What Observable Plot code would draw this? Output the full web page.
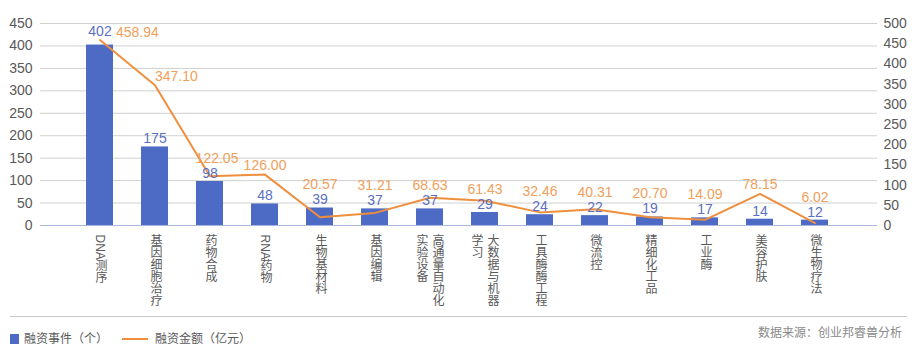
<!DOCTYPE html>
<html>
<head>
<meta charset="utf-8">
<script src="https://cdn.jsdelivr.net/npm/d3@7"></script>
<script src="https://cdn.jsdelivr.net/npm/@observablehq/plot@0.6"></script>
<style>
  html, body { margin: 0; padding: 0; background: #fff; }
  body { width: 916px; height: 361px; overflow: hidden; font-family: "Liberation Sans", "Noto Sans CJK SC", sans-serif; }
  #footer { position: relative; height: 45px; }
  #footer .rule { position: absolute; left: 10px; width: 897px; top: 0; border-top: 1px solid #c8c8c8; }
  #footer .item { position: absolute; font-size: 12px; color: #595959; line-height: 14px; white-space: nowrap; }
  #footer .sw { position: absolute; }
</style>
</head>
<body>
<div id="chart"></div>
<div id="footer"></div>
<script>
// ---- data ----
const categories = ["DNA测序","基因细胞治疗","药物合成","RNA药物","生物基材料","基因编辑","高通量自动化实验设备","大数据与机器学习","工具酶酶工程","微流控","精细化工品","工业酶","美容护肤","微生物疗法"];
const events = [402,175,98,48,39,37,37,29,24,22,19,17,14,12];
const amounts = [458.94,347.10,122.05,126.00,20.57,31.21,68.63,61.43,32.46,40.31,20.70,14.09,78.15,6.02];
const leftTicks = [0,50,100,150,200,250,300,350,400,450];
const rightTicks = [0,50,100,150,200,250,300,350,400,450,500];
const seriesNames = ["融资事件（个）","融资金额（亿元）"];
const sourceText = "数据来源：创业邦睿兽分析";

// ---- styling / layout ----
const FONT = '"Liberation Sans", "Noto Sans CJK SC", sans-serif';
const BLUE = "#4d6bc4", BLUE_LABEL = "#5b70c0";
const ORANGE = "#ef8f3e", ORANGE_LABEL = "#f0a05a";
const W = 916, H = 316, MT = 23, MB = 91, ML = 40, MR = 39;
const LMAX = d3.max(leftTicks), RMAX = d3.max(rightTicks);
const RATIO = LMAX / RMAX;                 // right axis → left axis units
const k = LMAX / (H - MT - MB);            // data units per pixel

const rows = categories.map((c, i) => ({cat: c, events: events[i], amount: amounts[i], i}));

// label columns for vertical category text (max 6 chars per column)
const labelParts = [];
rows.forEach(d => {
  const s = d.cat;
  if (s.length <= 6) labelParts.push({cat: d.cat, text: s, kind: "single"});
  else {
    labelParts.push({cat: d.cat, text: s.slice(0, 6), kind: "right"});
    labelParts.push({cat: d.cat, text: s.slice(6), kind: "left"});
  }
});

const amtY = d => Math.max(d.amount * RATIO + 9 * k, d.events + 23 * k);
const amtText = d => d.amount.toFixed(2);

const plot = Plot.plot({
  width: W, height: H,
  marginTop: MT, marginBottom: MB, marginLeft: ML, marginRight: MR,
  style: {fontFamily: FONT, fontSize: "14px", color: "#595959", background: "#fff", overflow: "visible"},
  x: {domain: categories, paddingInner: 0.51, paddingOuter: 0.255, insetLeft: 28, insetRight: 31, axis: null},
  y: {domain: [0, LMAX]},
  marks: [
    Plot.gridY(leftTicks, {stroke: "#d0d0d0", strokeOpacity: 1}),
    Plot.ruleY([0], {stroke: "#aab7e0", strokeWidth: 1.2}),
    Plot.axisY({ticks: leftTicks, tickSize: 0, tickPadding: 8, label: null, fontSize: 14}),
    Plot.axisY({anchor: "right", ticks: rightTicks.map(v => v * RATIO), tickFormat: v => String(Math.round(v / RATIO)),
                tickSize: 0, tickPadding: 6, textAnchor: "start", label: null, fontSize: 14}),
    Plot.barY(rows, {x: "cat", y: "events", fill: BLUE}),
    Plot.lineY(rows, {x: "cat", y: d => d.amount * RATIO, stroke: ORANGE, strokeWidth: 2}),
    Plot.text(rows.filter(d => d.i === 0), {x: "cat", y: "events", text: d => String(d.events), dy: -14, fill: BLUE_LABEL, fontSize: 14}),
    Plot.text(rows.filter(d => d.i > 0), {x: "cat", y: "events", text: d => String(d.events), dy: -8, fill: BLUE_LABEL, fontSize: 14}),
    Plot.text(rows.filter(d => d.i === 0), {x: "cat", y: d => d.amount * RATIO, text: amtText, textAnchor: "start", dx: 16, dy: -8, fill: ORANGE_LABEL, fontSize: 14}),
    Plot.text(rows.filter(d => d.i === 1), {x: "cat", y: amtY, text: amtText, textAnchor: "start", dx: 0, fill: ORANGE_LABEL, fontSize: 14}),
    Plot.text(rows.filter(d => d.i === 2), {x: "cat", y: amtY, text: amtText, dx: 7, fill: ORANGE_LABEL, fontSize: 14}),
    Plot.text(rows.filter(d => d.i > 2), {x: "cat", y: amtY, text: amtText, fill: ORANGE_LABEL, fontSize: 14}),
    Plot.text(labelParts.filter(d => d.kind === "single"), {x: "cat", y: d => 0, text: "text", textAnchor: "start", dy: 9, fill: "#595959", fontSize: 12, className: "xlab"}),
    Plot.text(labelParts.filter(d => d.kind === "right"), {x: "cat", y: d => 0, text: "text", textAnchor: "start", dy: 9, dx: 7, fill: "#595959", fontSize: 12, className: "xlab"}),
    Plot.text(labelParts.filter(d => d.kind === "left"), {x: "cat", y: d => 0, text: "text", textAnchor: "start", dy: 9, dx: -9, fill: "#595959", fontSize: 12, className: "xlab"})
  ]
});

plot.querySelectorAll("g.xlab text").forEach(t => {
  t.removeAttribute("y");
  t.setAttribute("writing-mode", "vertical-rl");
  t.style.writingMode = "vertical-rl";
  t.style.textOrientation = "mixed";
});
document.getElementById("chart").appendChild(plot);

// ---- footer: legend + source ----
const footer = document.getElementById("footer");
footer.innerHTML = `
  <div class="rule"></div>
  <div class="sw" style="left:10px; top:18px; width:9px; height:10px; background:${BLUE}"></div>
  <div class="item" style="left:24px; top:16px;">${seriesNames[0]}</div>
  <div class="sw" style="left:122px; top:22px; width:26px; height:2px; background:${ORANGE}"></div>
  <div class="item" style="left:155px; top:16px;">${seriesNames[1]}</div>
  <div class="item" style="right:14px; top:10px; color:#8a8a8a;">${sourceText}</div>
`;
</script>
</body>
</html>
